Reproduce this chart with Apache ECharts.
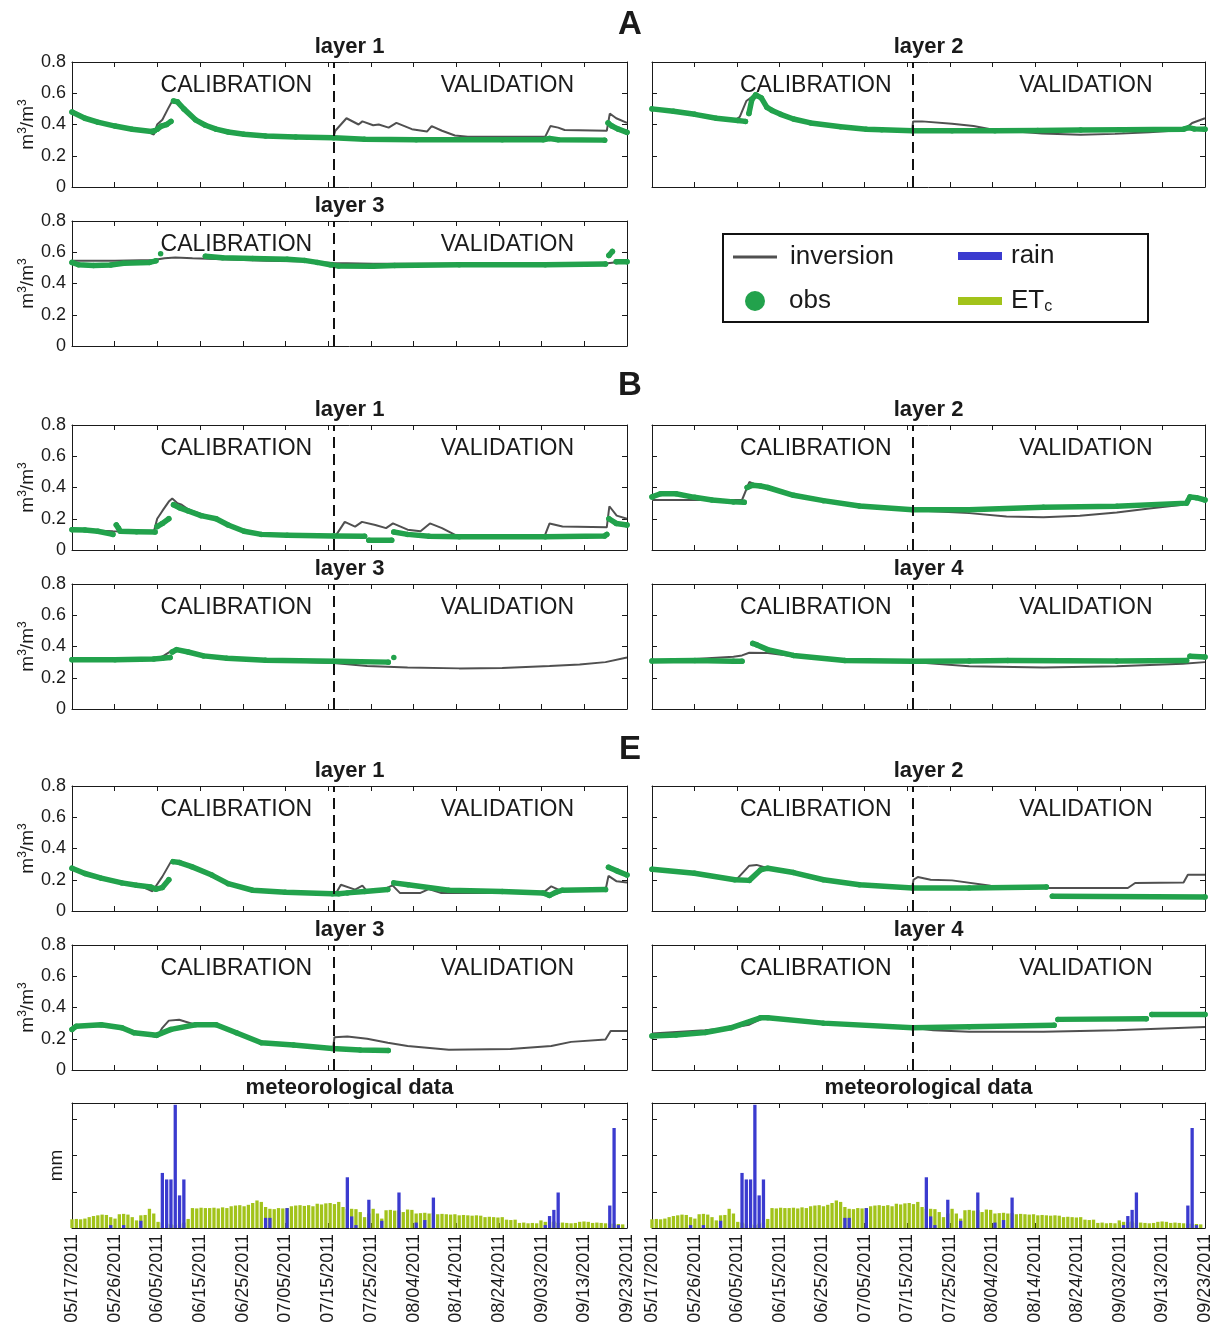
<!DOCTYPE html>
<html>
<head>
<meta charset="utf-8">
<script src="https://cdn.jsdelivr.net/npm/echarts@6/dist/echarts.min.js"></script>
<style>
  html, body { margin: 0; padding: 0; background: #fff; }
  #chart { width: 1215px; height: 1326px; }
</style>
</head>
<body>
<div id="chart"></div>
<script>
// Time axis: days since 05/17/2011 (0 .. 129 = 09/23/2011)
const tickLabels = ['05/17/2011','05/26/2011','06/05/2011','06/15/2011','06/25/2011','07/05/2011','07/15/2011',
                    '07/25/2011','08/04/2011','08/14/2011','08/24/2011','09/03/2011','09/13/2011','09/23/2011'];
const dayMax = 129;
const switchDay = 60.8;          // end of calibration period

// ---- site A ----
const invA1 = [[0,0.49],[3,0.44],[6,0.41],[10,0.385],[14,0.365],[18,0.35],[19,0.335],[19.8,0.4],[21,0.43],[22.3,0.5],[23.3,0.55],[24.3,0.54],[26,0.49],[28.7,0.43],[31,0.395],[33.5,0.37],[36.3,0.35],[40,0.335],[45,0.325],[52,0.318],[60.7,0.313],[61.2,0.36],[63.8,0.44],[66.6,0.40],[67.5,0.42],[70,0.395],[71.3,0.40],[73.6,0.38],[75.4,0.41],[79,0.37],[82.5,0.355],[83.6,0.39],[86,0.36],[89,0.33],[92,0.322],[110,0.322],[111.2,0.39],[113,0.38],[114.5,0.365],[124.3,0.36],[125,0.47],[126.5,0.44],[129,0.41]];
const obsA1 = [[0,0.48],[3,0.44],[6,0.415],[10,0.39],[14,0.37],[18.5,0.355],[19.2,0.36],null,[19.8,0.37],[20.8,0.39],[22,0.40],[23,0.42],null,[23.6,0.55],[24.5,0.545],[26,0.5],[28.7,0.43],[31,0.395],[33.5,0.37],[36.3,0.352],[40,0.337],[45,0.326],[52,0.32],[60.8,0.315],[68,0.305],[80,0.302],[100,0.303],[109.5,0.302],[111,0.31],[113,0.303],[123.8,0.30],null,[124.6,0.41],[125.5,0.39],[127,0.37],[129,0.35]];
const invA2 = [[0,0.50],[5,0.48],[10,0.465],[15,0.445],[19.5,0.43],[20.5,0.45],[22,0.55],[23.5,0.58],[25,0.57],[27,0.51],[30,0.47],[33,0.44],[37,0.415],[44,0.39],[50,0.375],[55,0.366],[60.7,0.358],[60.9,0.42],[63,0.42],[70,0.405],[75,0.39],[79,0.37],[85,0.355],[91,0.343],[100,0.335],[108,0.34],[116,0.35],[124,0.364],[126,0.41],[129,0.44]];
const obsA2 = [[0,0.50],[5,0.485],[10,0.465],[15,0.44],[20,0.425],[21.8,0.42],null,[22.6,0.47],[23.3,0.56],[24.2,0.59],[25.5,0.57],[26.8,0.51],[28,0.49],[30,0.465],[33,0.435],[37,0.41],[44,0.385],[50,0.37],[53.6,0.366],[60.8,0.36],[70,0.36],[80,0.36],[90,0.362],[100,0.365],[110,0.367],[124,0.37],[125.2,0.38],[126.5,0.372],[129,0.37]];
const invA3 = [[0,0.545],[10,0.545],[19,0.55],[21.5,0.562],[24,0.567],[28,0.562],[35,0.555],[45,0.545],[55,0.54],[60.8,0.532],[70,0.527],[90,0.527],[110,0.527],[124,0.528],[126,0.535],[129,0.535]];
const obsA3 = [[0,0.535],[1.5,0.52],[5,0.515],[9,0.518],[12,0.53],[18,0.535],[19.5,0.545],null,[20.6,0.59],null,[31,0.575],[35,0.565],[42,0.56],[50,0.555],[54,0.548],[57,0.535],[60,0.52],[62,0.512],[70,0.51],[75,0.515],[90,0.52],[110,0.52],[124,0.525],null,[124.8,0.58],[125.6,0.605],null,[126.5,0.54],[129,0.54]];

// ---- site B ----
const invB1 = [[0,0.13],[5,0.125],[9.5,0.12],[15,0.118],[19,0.115],[19.8,0.2],[21,0.25],[22.5,0.31],[23.3,0.33],[24.5,0.30],[25.5,0.29],[27,0.26],[30,0.23],[33.5,0.20],[36,0.17],[40,0.12],[44,0.10],[50,0.095],[60.7,0.09],[61.5,0.10],[63.4,0.18],[65.8,0.15],[67.4,0.18],[70.5,0.16],[73,0.14],[74.6,0.17],[78,0.13],[81,0.12],[83.2,0.17],[86,0.14],[89.5,0.09],[100,0.085],[109.8,0.085],[111,0.17],[114,0.15],[124.3,0.145],[124.9,0.28],[126.6,0.22],[129,0.20]];
const obsB1 = [[0,0.13],[3,0.128],[6,0.12],[9.5,0.10],null,[10.3,0.16],[10.8,0.14],[11.2,0.12],[15,0.117],[19.3,0.115],null,[19.8,0.15],[21,0.17],[22.5,0.20],null,[23.6,0.29],[25,0.27],[27,0.25],[30,0.22],[33.5,0.20],[36.3,0.16],[40,0.12],[44,0.10],[50,0.095],[60.8,0.09],[68,0.088],null,[69,0.062],[74.3,0.062],null,[74.8,0.115],[78,0.10],[83,0.088],[90,0.085],[110,0.085],[123.8,0.09],[124.3,0.10],null,[124.8,0.20],[126.5,0.17],[129,0.16]];
const invB2 = [[0,0.32],[10,0.32],[19,0.32],[21,0.32],[22.7,0.435],[24.4,0.415],[27,0.40],[33,0.35],[40,0.315],[48.4,0.282],[55,0.265],[60.8,0.255],[74,0.236],[82.7,0.215],[91.3,0.21],[99.8,0.219],[108.4,0.24],[116,0.265],[123.8,0.29],[125.5,0.34],[129,0.33]];
const obsB2 = [[0,0.34],[2,0.36],[5.6,0.36],[9.9,0.337],[14,0.32],[19,0.308],[21.5,0.305],null,[22.2,0.40],[23.5,0.415],[25.3,0.41],[27,0.40],[33,0.35],[40,0.316],[48.4,0.282],[60.8,0.257],[74,0.257],[91.3,0.274],[108.4,0.28],[124.7,0.30],[125.5,0.34],[127,0.335],[129,0.32]];
const invB3 = [[0,0.31],[10,0.31],[19,0.315],[21,0.335],[23,0.37],[24,0.375],[27,0.36],[30.6,0.34],[36,0.325],[45,0.31],[60.8,0.295],[68.6,0.275],[78,0.265],[90,0.26],[100,0.262],[111,0.275],[118,0.285],[124,0.30],[129,0.33]];
const obsB3 = [[0,0.315],[10,0.315],[19,0.32],[21,0.325],[22.8,0.33],null,[23.3,0.365],[24.3,0.38],[27,0.365],[30.6,0.34],[36,0.325],[45,0.312],[60.8,0.305],[73.5,0.30],null,[74.8,0.33]];
const invB4 = [[0,0.31],[10,0.32],[19,0.335],[21,0.343],[22.7,0.36],[27,0.358],[33,0.337],[45,0.307],[60.8,0.30],[74,0.274],[91.3,0.265],[108.4,0.274],[123.8,0.29],[129,0.30]];
const obsB4 = [[0,0.307],[10,0.31],[19,0.305],[21,0.305],null,[23.5,0.42],[24.5,0.41],[27,0.38],[33,0.343],[45,0.31],[60.8,0.305],[74,0.307],[83,0.31],[108.4,0.307],[124.7,0.31],null,[125.5,0.337],[129,0.333]];

// ---- site E ----
const invE1 = [[0,0.27],[6.8,0.21],[11.6,0.18],[16,0.16],[18.7,0.126],[21,0.22],[23,0.316],[25,0.31],[27.8,0.284],[32.5,0.23],[36.3,0.175],[42,0.133],[49.6,0.12],[60.7,0.11],[61.5,0.12],[62.5,0.168],[65.8,0.137],[67.5,0.162],[68.6,0.126],[72.4,0.137],[74.5,0.164],[76.2,0.116],[81,0.116],[82.9,0.14],[85.7,0.116],[109.5,0.116],[111.4,0.158],[113.3,0.133],[124,0.133],[124.7,0.225],[126.6,0.19],[129,0.183]];
const obsE1 = [[0,0.274],[3,0.24],[6.8,0.21],[11.6,0.18],[15,0.165],[18.3,0.154],[19.5,0.14],[21,0.15],[22.5,0.20],null,[23.5,0.316],[25,0.31],[27.8,0.284],[32.5,0.23],[36.3,0.175],[42,0.133],[49.6,0.12],[60.5,0.11],[62,0.11],[64,0.116],[68,0.125],[73.4,0.137],null,[74.8,0.18],[78.1,0.168],[87.6,0.133],[100,0.125],[109.5,0.115],[111,0.10],[112.5,0.12],[114,0.133],[124,0.137],null,[124.7,0.28],[126.6,0.257],[129,0.23]];
const invE2 = [[0,0.267],[9.9,0.242],[19.3,0.20],[20,0.21],[22.7,0.29],[24.4,0.295],[27,0.274],[33,0.246],[40,0.20],[48.4,0.168],[60.7,0.147],[61,0.20],[62,0.217],[65,0.20],[70,0.196],[79,0.162],[91,0.147],[111,0.147],[112.7,0.179],[124,0.183],[125,0.232],[129,0.232]];
const obsE2 = [[0,0.267],[9.9,0.242],[19.3,0.20],[22.7,0.196],[25.3,0.263],[27,0.274],[33,0.246],[40,0.20],[48.4,0.168],[60.8,0.147],[74,0.147],[92,0.154],null,[93.4,0.095],[129,0.09]];
const invE3 = [[0,0.28],[6.8,0.28],[11.6,0.27],[14.4,0.248],[19.7,0.21],[21,0.27],[22.5,0.316],[24.9,0.322],[28.7,0.29],[33.5,0.285],[38.2,0.238],[44,0.174],[51.5,0.16],[60.7,0.138],[61,0.21],[64,0.215],[68.6,0.20],[73.4,0.174],[78,0.153],[87.6,0.13],[101.9,0.135],[111.4,0.153],[116,0.18],[124,0.195],[125.2,0.25],[129,0.25]];
const obsE3 = [[0,0.26],[1,0.28],[6.8,0.29],[11.6,0.27],[14.4,0.238],[19.7,0.223],[23,0.26],[28.7,0.29],[33.5,0.29],[38.2,0.238],[44,0.174],[51.5,0.16],[60.5,0.138],[67,0.128],[73.5,0.125]];
const invE4 = [[0,0.233],[12.4,0.254],[18.4,0.27],[22.7,0.29],[26,0.334],[40,0.30],[60.8,0.27],[65.6,0.254],[74,0.245],[91.3,0.245],[108.4,0.254],[129,0.275]];
const obsE4 = [[0,0.218],[5.6,0.224],[12.4,0.24],[18.4,0.27],[25.3,0.334],[27,0.334],[40,0.30],[60.8,0.27],[74,0.277],[93.8,0.286],null,[94.7,0.324],[115.3,0.328],null,[116.6,0.355],[129,0.355]];

// ---- meteorological data (mm/day), day index 0 = 05/17/2011 ----
const etc = [2.4,2.5,2.4,2.6, 3.0,3.3,3.5,3.7,3.6, 3.0, 2.6, 3.8,3.9,3.7, 3.0, 2.1, 3.5,3.6, 5.3, 4.0, 1.7,
  1.5,1.2,1.0,0.8,1.2,1.5, 2.5, 5.5,5.4,5.6,5.5,5.5,5.6,5.4,5.7,5.5, 6.0,6.2,6.3,6.0,6.4, 6.9,7.6,7.2, 5.8,
  5.3,5.2, 5.5,5.4,5.5, 6.0,6.2,6.3,6.1,6.3,6.0, 6.7,6.5,6.8, 6.9,6.6, 7.2, 5.8, 5.3,5.3,5.2, 4.4, 3.0, 4.0,
  5.3, 4.0, 2.6, 4.9,5.0,4.8,4.9, 4.4, 5.1,5.0, 4.0, 4.1,4.2,4.0,4.1, 3.8,3.9,3.8,3.7,3.8, 3.5,3.6,3.5,3.4,3.5,3.4,
  3.0,3.1,3.0,2.9,3.0, 2.3,2.2,2.3, 1.4,1.5,1.3,1.4,1.3, 2.1, 1.7,1.6,1.8, 1.4,1.5,1.4,1.3,1.4, 1.7,1.8,1.7,
  1.4,1.5,1.4,1.3, 1.2,1.2, 1.1,1.0];
const rainDays = [9, 12, 16, 21, 22, 23, 24, 25, 26, 45, 46, 50, 64, 65, 66, 69, 72, 76, 80, 82, 84, 110, 111, 112, 113, 125, 126, 127];
const rainMm   = [0.8, 0.8, 2.0, 15.2, 13.4, 13.4, 34.0, 9.0, 13.4, 2.8, 2.8, 5.5, 14.0, 3.2, 0.8, 7.8, 2.0, 9.8, 1.5, 2.2, 8.4, 0.8, 3.3, 5.0, 9.8, 6.2, 27.6, 0.8];

// ---------------------------------------------------------------
const FONT = '"Liberation Sans", Arial, Helvetica, sans-serif';
const INK = '#1a1a1a';
const GRAY = '#505050';
const GREEN = '#22a24c';
const BLUE = '#3b3bcf';
const YELLOWGREEN = '#a2c31a';

const cols = { L: { left: 72, width: 555 }, R: { left: 652, width: 553 } };
const rowTops = [62, 221, 425, 584, 786, 945, 1103];
const H = 125;

const panels = [
  { title: 'layer 1', col: 'L', row: 0, inv: invA1, obs: obsA1 },
  { title: 'layer 2', col: 'R', row: 0, inv: invA2, obs: obsA2 },
  { title: 'layer 3', col: 'L', row: 1, inv: invA3, obs: obsA3 },
  { title: 'layer 1', col: 'L', row: 2, inv: invB1, obs: obsB1 },
  { title: 'layer 2', col: 'R', row: 2, inv: invB2, obs: obsB2 },
  { title: 'layer 3', col: 'L', row: 3, inv: invB3, obs: obsB3 },
  { title: 'layer 4', col: 'R', row: 3, inv: invB4, obs: obsB4 },
  { title: 'layer 1', col: 'L', row: 4, inv: invE1, obs: obsE1 },
  { title: 'layer 2', col: 'R', row: 4, inv: invE2, obs: obsE2 },
  { title: 'layer 3', col: 'L', row: 5, inv: invE3, obs: obsE3 },
  { title: 'layer 4', col: 'R', row: 5, inv: invE4, obs: obsE4 },
  { title: 'meteorological data', col: 'L', row: 6, met: true },
  { title: 'meteorological data', col: 'R', row: 6, met: true }
];

const step = dayMax / 13;
const toSeries = arr => arr.map(p => (p === null ? ['-', '-'] : p));
const axisLine = { show: true, onZero: false, lineStyle: { color: INK, width: 1 } };
const tick = { show: true, inside: true, length: 5, lineStyle: { color: INK, width: 1 } };

const grid = [], xAxis = [], yAxis = [], series = [], graphic = [];

panels.forEach((p, i) => {
  const c = cols[p.col];
  const top = rowTops[p.row];
  grid.push({ left: c.left, top: top, width: c.width, height: H, containLabel: false });

  const xBase = { type: 'value', gridIndex: i, min: 0, max: dayMax, interval: step,
                  axisLine, axisTick: tick, splitLine: { show: false } };
  xAxis.push(Object.assign({}, xBase, {
    position: 'bottom',
    axisLabel: p.met ? {
      show: true, rotate: 90, fontSize: 18, fontFamily: FONT, color: INK, margin: 6,
      formatter: v => { const k = Math.round(v / step); return tickLabels[k] || ''; }
    } : { show: false }
  }));
  xAxis.push(Object.assign({}, xBase, { position: 'top', axisLabel: { show: false } }));

  const yBase = { type: 'value', gridIndex: i, min: 0, max: p.met ? 34.5 : 0.8, interval: p.met ? 10 : 0.2,
                  axisLine, axisTick: tick, splitLine: { show: false } };
  const left = Object.assign({}, yBase, { position: 'left',
    axisLabel: { show: p.col === 'L' && !p.met, fontSize: 18, fontFamily: FONT, color: INK, margin: 6 } });
  if (p.col === 'L') {
    if (p.met) {
      left.name = 'mm';
      left.nameLocation = 'middle';
      left.nameGap = 6;
      left.nameTextStyle = { fontSize: 19, fontFamily: FONT, color: INK };
    } else {
      left.name = 'm{s|3}/m{s|3}';
      left.nameLocation = 'middle';
      left.nameGap = 30;
      left.nameTextStyle = { fontSize: 19, fontFamily: FONT, color: INK,
        rich: { s: { fontSize: 12, fontFamily: FONT, color: INK, verticalAlign: 'top', lineHeight: 22 } } };
    }
  }
  yAxis.push(left);
  yAxis.push(Object.assign({}, yBase, { position: 'right', axisLabel: { show: false } }));

  const xi = 2 * i, yi = 2 * i;
  if (p.met) {
    series.push({
      type: 'bar', name: 'ETc', xAxisIndex: xi, yAxisIndex: yi,
      data: etc.map((v, d) => [d, v]), barWidth: 3.3, barGap: '-100%',
      itemStyle: { color: YELLOWGREEN }, z: 2, silent: true
    });
    series.push({
      type: 'bar', name: 'rain', xAxisIndex: xi, yAxisIndex: yi,
      data: rainDays.map((d, k) => [d, rainMm[k]]), barWidth: 3.3, barGap: '-100%',
      itemStyle: { color: BLUE }, z: 3, silent: true
    });
  } else {
    series.push({
      type: 'line', name: 'inversion', xAxisIndex: xi, yAxisIndex: yi,
      data: toSeries(p.inv), showSymbol: false, symbol: 'none',
      lineStyle: { color: GRAY, width: 2 }, itemStyle: { color: GRAY }, z: 2, silent: true
    });
    series.push({
      type: 'line', name: 'obs', xAxisIndex: xi, yAxisIndex: yi,
      data: toSeries(p.obs), symbol: 'circle', symbolSize: 5.5, showSymbol: true,
      lineStyle: { color: GREEN, width: 5.5, cap: 'round', join: 'round' }, itemStyle: { color: GREEN }, z: 3, silent: true,
      markLine: {
        silent: true, symbol: 'none', animation: false, label: { show: false },
        lineStyle: { color: '#111', width: 2, type: [11, 6] },
        data: [{ xAxis: switchDay }]
      }
    });
    // period labels
    graphic.push({ type: 'text', x: c.left + c.width * 38.2 / dayMax, y: top + 24, silent: true,
      style: { text: 'CALIBRATION', font: '23px ' + FONT, fill: INK, align: 'center', verticalAlign: 'middle' } });
    graphic.push({ type: 'text', x: c.left + c.width * 101.2 / dayMax, y: top + 24, silent: true,
      style: { text: 'VALIDATION', font: '23px ' + FONT, fill: INK, align: 'center', verticalAlign: 'middle' } });
  }
  // panel title
  graphic.push({ type: 'text', x: c.left + c.width / 2, y: top - 15, silent: true,
    style: { text: p.title, font: 'bold 22px ' + FONT, fill: INK, align: 'center', verticalAlign: 'middle' } });
});

// site letters
[['A', 25], ['B', 386], ['E', 750]].forEach(([t, y]) => {
  graphic.push({ type: 'text', x: 630, y: y, silent: true,
    style: { text: t, font: 'bold 33px ' + FONT, fill: INK, align: 'center', verticalAlign: 'middle' } });
});

// legend frame
graphic.push({ type: 'rect', silent: true, z: 10,
  shape: { x: 723, y: 234, width: 425, height: 88 },
  style: { fill: 'none', stroke: '#111', lineWidth: 2 } });

const legendText = { fontSize: 26, fontFamily: FONT, color: INK,
  rich: { sub: { fontSize: 16, fontFamily: FONT, color: INK, verticalAlign: 'bottom', padding: [12, 0, 0, 0] } } };
const mkLegend = (name, left, top, icon, w, h, pad) => ({
  data: [name], left, top, icon, itemWidth: w, itemHeight: h, selectedMode: false, padding: 0,
  formatter: n => (n === 'ETc' ? 'ET{sub|c}' : n),
  textStyle: Object.assign({}, legendText, { padding: [0, 0, 0, pad] })
});

const option = {
  animation: false,
  backgroundColor: '#fff',
  grid, xAxis, yAxis, series, graphic,
  legend: [
    mkLegend('inversion', 733, 244, 'rect', 44, 3, 8),
    mkLegend('obs', 745, 288, 'circle', 20, 20, 19),
    mkLegend('rain', 958, 243, 'rect', 44, 8, 4),
    mkLegend('ETc', 958, 288, 'rect', 44, 8, 4)
  ]
};

const chart = echarts.init(document.getElementById('chart'), null, { renderer: 'canvas' });
chart.setOption(option);
</script>
</body>
</html>
